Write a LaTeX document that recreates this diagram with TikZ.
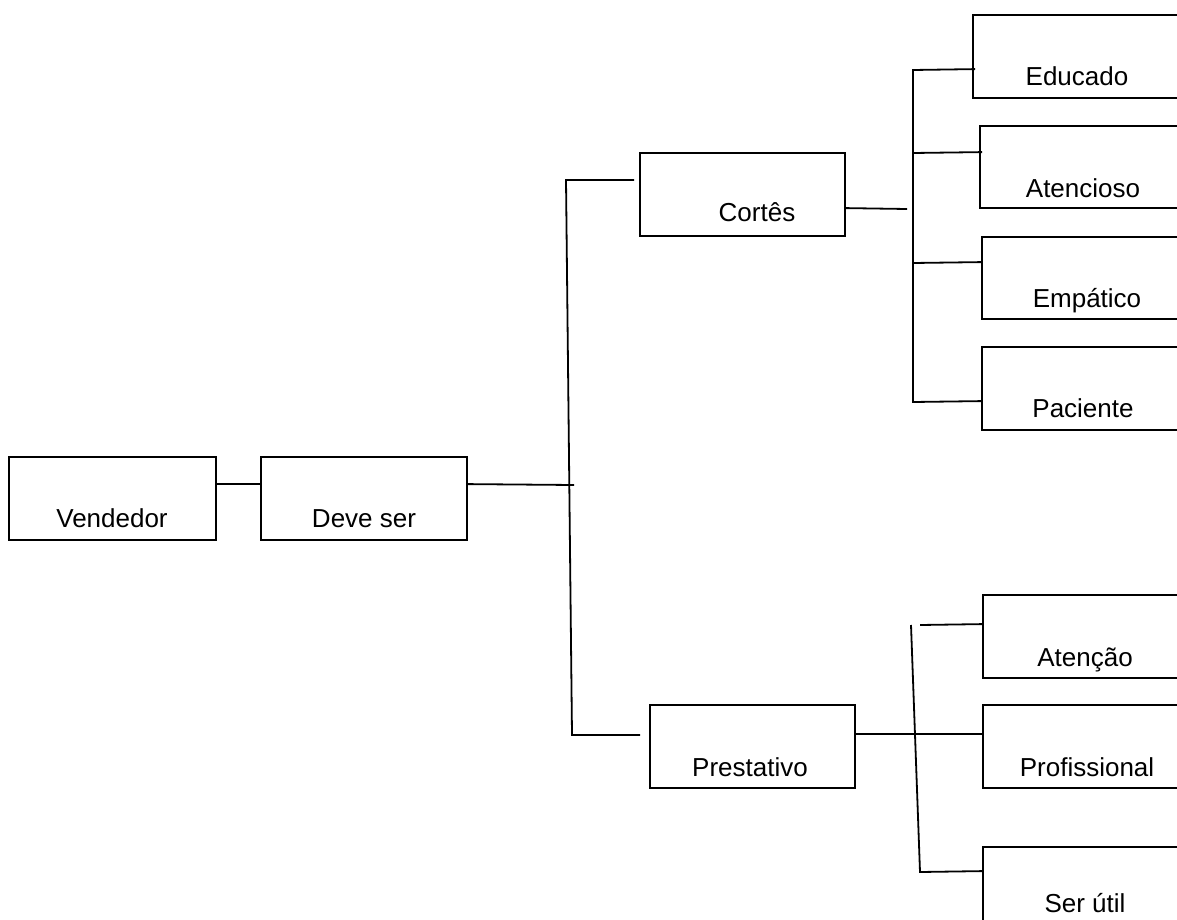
\documentclass[tikz,border=0pt]{standalone}
\usepackage{fontspec}
\setmainfont{Liberation Sans}
\begin{document}
\begin{tikzpicture}[x=1pt,y=-1pt,
  box/.style={draw=black,line width=1.8pt,rectangle,inner sep=0pt},
  lbl/.style={anchor=base,inner sep=0pt,font=\fontsize{26}{30}\selectfont},
  link/.style={draw=black,line width=1.8pt}]
\useasboundingbox (0,0) rectangle (1177,920);
\clip (0,0) rectangle (1177,920);

% boxes, given by their corners
\newcommand{\cbox}[5]{\node[box,minimum width=#4-#2,minimum height=#5-#3] (#1) at ({(#2+#4)/2},{(#3+#5)/2}) {};}
\cbox{ved}{9}{457}{216}{540}
\cbox{dev}{261}{457}{467}{540}
\cbox{cor}{640}{153}{845}{236}
\cbox{pre}{650}{705}{855}{788}
\cbox{edu}{973}{15}{1195}{98}
\cbox{ate}{980}{126}{1195}{208}
\cbox{emp}{982}{237}{1195}{319}
\cbox{pac}{982}{347}{1195}{430}
\cbox{atc}{983}{595}{1195}{678}
\cbox{pro}{983}{705}{1195}{788}
\cbox{ser}{983}{847}{1195}{940}

% labels
\node[lbl] (tved) at (112,527) {Vendedor};
\node[lbl] (tdev) at (364,527) {Deve ser};
\node[lbl] (tcor) at (757,222) {Cortês};
\node[lbl] (tpre) at (750,776) {Prestativo};
\node[lbl] (tedu) at (1077,86) {Educado};
\node[lbl] (tate) at (1083,197) {Atencioso};
\node[lbl] (temp) at (1087,307) {Empático};
\node[lbl] (tpac) at (1083,417) {Paciente};
\node[lbl] (tatc) at (1085,666) {Atenção};
\node[lbl] (tpro) at (1087,776) {Profissional};
\node[lbl] (tser) at (1085,912) {Ser útil};

% junction points
\coordinate (tj) at (574,485);
\coordinate (t1) at (566,180);
\coordinate (t2) at (572,735);
\coordinate (cin) at (634,180);
\coordinate (pin) at (640,735);
\coordinate (cout) at (907,209);
\coordinate (c1) at (913,70);
\coordinate (c2) at (913,153);
\coordinate (c3) at (913,263);
\coordinate (c4) at (913,402);
\coordinate (p0) at (911,625);
\coordinate (p1) at (920,625);
\coordinate (p3) at (920,872);

% main stem
\draw[link] ([yshift=-28pt]ved.north east) -- ([yshift=-28pt]dev.north west);
\draw[link] ([yshift=-28pt]dev.north east) -- (tj);
\draw[link] (cin) -- (t1) -- (t2) -- (pin);

% Cortês branch
\draw[link] ([yshift=-56pt]cor.north east) -- (cout);
\draw[link] ([xshift=3pt,yshift=-55pt]edu.north west) -- (c1) -- (c4) -- ([yshift=-55pt]pac.north west);
\draw[link] (c2) -- ([xshift=3pt,yshift=-27pt]ate.north west);
\draw[link] (c3) -- ([yshift=-26pt]emp.north west);

% Prestativo branch
\draw[link] ([yshift=-30pt]pre.north east) -- ([yshift=-30pt]pro.north west);
\draw[link] (p0) -- (p3) -- ([yshift=-25pt]ser.north west);
\draw[link] (p1) -- ([yshift=-30pt]atc.north west);
\end{tikzpicture}
\end{document}
